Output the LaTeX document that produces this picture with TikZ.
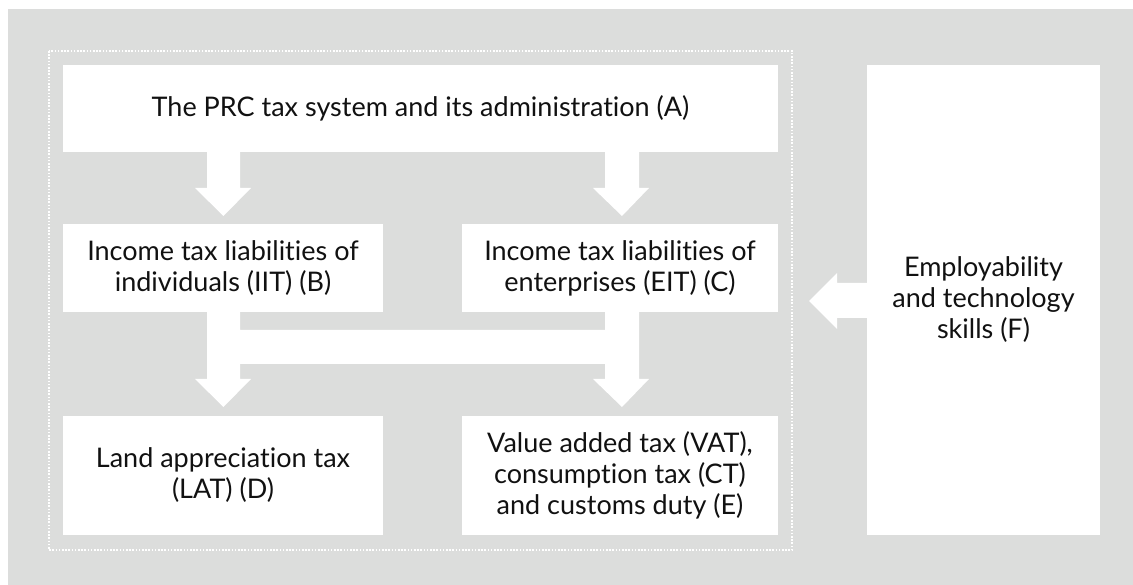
\documentclass[tikz,border=0pt]{standalone}
\usepackage{fontspec}
\setmainfont{Lato}[Ligatures={NoCommon}]
\definecolor{bggray}{HTML}{DCDDDC}
\definecolor{txt}{HTML}{111111}
\begin{document}
\begin{tikzpicture}[x=1pt,y=-1pt,
  box/.style={fill=white,draw=none,inner sep=0pt,outer sep=0pt},
  lbl/.style={align=center,text=txt,font=\fontsize{27}{31}\selectfont,inner sep=0pt},
  flow/.style={fill=white,draw=none}]
\useasboundingbox (0,0) rectangle (1133,585);
\fill[bggray] (8,9) rectangle (1133,585);
\draw[white,line width=1.8pt,dash pattern=on 1.6pt off 1.6pt] (49,51) rectangle (792,550);
% boxes
\path[box] (63,65) rectangle (778,152) coordinate[pos=0.5] (Ac);
\path[box] (63,224) rectangle (383,312) coordinate[pos=0.5] (Bc);
\path[box] (462,224) rectangle (778,312) coordinate[pos=0.5] (Cc);
\path[box] (63,416) rectangle (383,535) coordinate[pos=0.5] (Dc);
\path[box] (462,416) rectangle (778,535) coordinate[pos=0.5] (Ec);
\path[box] (867,65) rectangle (1100,535) coordinate[pos=0.5] (Fc);
% labels
\node[lbl] (A) at (Ac) {The PRC tax system and its administration (A)};
\node[lbl] (B) at (Bc) {Income tax liabilities of\\individuals (IIT) (B)};
\node[lbl] (C) at (Cc) {Income tax liabilities of\\enterprises (EIT) (C)};
\node[lbl] (D) at (Dc) {Land appreciation tax\\(LAT) (D)};
\node[lbl] (E) at (Ec) {Value added tax (VAT),\\consumption tax (CT)\\and customs duty (E)};
\node[lbl] (F) at (Fc) {Employability\\and technology\\skills (F)};
% arrows A -> B, A -> C
\fill[flow] (207,151) -- (240,151) -- (240,188) -- (251,188) -- (223.5,216) -- (195,188) -- (207,188) -- cycle;
\fill[flow] (605,151) -- (639,151) -- (639,188) -- (649,188) -- (622,216) -- (593,188) -- (605,188) -- cycle;
% merged arrows B,C -> D,E
\fill[flow] (207,311) -- (240,311) -- (240,330) -- (605,330) -- (605,311) -- (639,311)
  -- (639,379) -- (649,379) -- (622,407) -- (593,379) -- (605,379) -- (605,364)
  -- (240,364) -- (240,379) -- (251,379) -- (223.5,407) -- (195,379) -- (207,379) -- cycle;
% arrow F -> C
\fill[flow] (868,283) -- (837,283) -- (837,273) -- (809,301) -- (837,329) -- (837,318) -- (868,318) -- cycle;
\end{tikzpicture}
\end{document}
